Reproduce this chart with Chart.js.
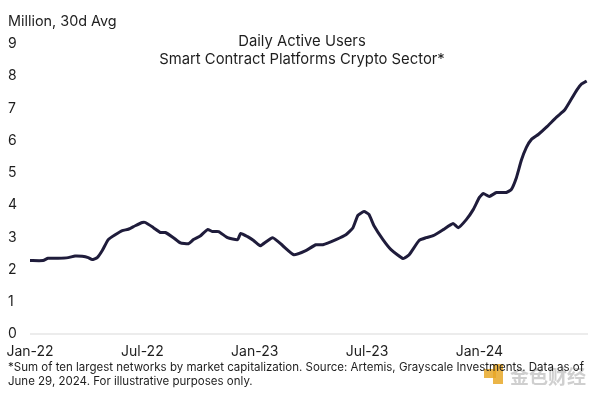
<!DOCTYPE html>
<html>
<head>
<meta charset="utf-8">
<script src="https://cdn.jsdelivr.net/npm/chart.js@4"></script>
<style>
  html, body { margin: 0; padding: 0; background: #fff; }
  #wrap { position: relative; width: 600px; height: 398px; }
</style>
</head>
<body>
<div id="wrap"><canvas id="mainChart" width="600" height="398"></canvas></div>
<script>
// months since Jan-22 (x) and daily active users, million, 30d avg (y)
var months = [0, 0.70, 0.96, 1.50, 2.04, 2.41, 2.79, 3.11, 3.32, 3.59, 3.86, 4.18, 4.55, 4.93, 5.25, 5.62,
  6.0, 6.16, 6.59, 6.96, 7.23, 7.66, 8.03, 8.46, 8.73, 9.11, 9.48, 9.75, 10.07, 10.55, 11.09, 11.25, 11.62, 11.94,
  12.21, 12.32, 12.96, 13.50, 14.09, 14.73, 15.27, 15.64, 16.34, 16.87, 17.25, 17.51, 17.84,
  18.10, 18.37, 18.85, 19.28, 19.93, 20.25, 20.78, 21.16, 21.53, 22.07, 22.60, 22.87, 23.30, 23.67,
  24.0, 24.21, 24.53, 24.91, 25.44, 25.71, 25.98, 26.24, 26.51, 26.78, 27.16, 27.58, 28.12, 28.55, 28.82, 29.20, 29.46, 29.73]
var dau = [2.28, 2.28, 2.35, 2.35, 2.37, 2.42, 2.41, 2.37, 2.31, 2.37, 2.59, 2.93, 3.08, 3.21, 3.25, 3.36,
  3.46, 3.46, 3.30, 3.15, 3.15, 2.99, 2.83, 2.80, 2.93, 3.05, 3.24, 3.18, 3.18, 2.99, 2.93, 3.12, 3.02, 2.90,
  2.77, 2.74, 2.99, 2.74, 2.46, 2.59, 2.77, 2.77, 2.93, 3.08, 3.30, 3.68, 3.80,
  3.71, 3.36, 2.93, 2.62, 2.34, 2.46, 2.90, 2.99, 3.05, 3.24, 3.43, 3.30, 3.55, 3.86,
  4.24, 4.36, 4.27, 4.39, 4.39, 4.49, 4.86, 5.39, 5.79, 6.04, 6.20, 6.42, 6.73, 6.95, 7.20, 7.57, 7.76, 7.85]

var tickMonths = [0, 6, 12, 18, 24]
var tickLabels = ["Jan-22", "Jul-22", "Jan-23", "Jul-23", "Jan-24"]

var titleLines = ["Daily Active Users", "Smart Contract Platforms Crypto Sector*"]
var unitLabel = "Million, 30d Avg"
var footLines = ["*Sum of ten largest networks by market capitalization. Source: Artemis, Grayscale Investments. Data as of",
  "June 29, 2024. For illustrative purposes only."]

var fontFam = "Inter, 'Noto Sans', sans-serif"
var textColor = "#1e1e1e"

var points = []
for (var i = 0; i < months.length; i++) {
  points.push({x: months[i], y: dau[i]})
}

// draws the title, unit label, footnote and watermark
var textPlugin = {
  id: 'texts',
  afterDraw: function (chart) {
    var c = chart.ctx
    c.save()
    c.fillStyle = textColor
    c.textBaseline = 'middle'
    c.font = "14.8px " + fontFam
    c.textAlign = 'center'
    c.fillText(titleLines[0], 302, 42)
    c.fillText(titleLines[1], 302, 60)
    c.textAlign = 'left'
    c.font = "14.4px " + fontFam
    c.fillText(unitLabel, 8, 22)
    // watermark
    c.fillStyle = "rgba(232,168,40,0.85)"
    c.fillRect(484, 369, 12, 9)
    c.fillRect(493, 364, 10, 20)
    c.fillStyle = "rgba(195,195,195,0.8)"
    c.font = "bold 19px 'Noto Sans CJK SC', sans-serif"
    c.fillText("金色财经", 510, 377)
    c.fillStyle = textColor
    c.font = "11.5px " + fontFam
    c.fillText(footLines[0], 8, 368)
    c.fillText(footLines[1], 8, 382)
    c.restore()
  }
}

var ctx = document.getElementById('mainChart').getContext('2d')
var mainChart = new Chart(ctx, {
  type: 'line',
  data: {
    datasets: [{
      label: "Daily Active Users",
      data: points,
      borderColor: '#1f1c3b',
      borderWidth: 3,
      pointRadius: 0,
      tension: 0.15,
      fill: false
    }]
  },
  options: {
    responsive: false,
    animation: false,
    layout: {padding: {left: 8, right: 12, top: 44, bottom: 37}},
    plugins: {
      legend: {display: false},
      title: {display: false},
      tooltip: {enabled: false}
    },
    scales: {
      x: {
        type: 'linear',
        min: 0,
        max: 29.8,
        border: {display: false},
        grid: {display: false, drawTicks: false},
        afterBuildTicks: function (scale) {
          scale.ticks = tickMonths.map(function (m) { return {value: m} })
        },
        afterFit: function (scale) {
          scale.height = 27
          scale.paddingLeft = 0
          scale.paddingRight = 0
        },
        ticks: {
          autoSkip: false,
          maxRotation: 0,
          padding: 9,
          color: textColor,
          font: {family: fontFam, size: 14},
          callback: function (v) {
            var k = tickMonths.indexOf(v)
            return k >= 0 ? tickLabels[k] : ''
          }
        }
      },
      y: {
        min: 0,
        max: 9,
        border: {display: false},
        afterFit: function (scale) {
          scale.width = 22
          scale.paddingTop = 0
          scale.paddingBottom = 0
        },
        grid: {
          drawTicks: false,
          lineWidth: 2,
          color: function (c) { return c.tick && c.tick.value === 0 ? '#ececec' : 'rgba(0,0,0,0)' }
        },
        ticks: {
          stepSize: 1,
          crossAlign: 'far',
          padding: 8,
          color: textColor,
          font: {family: fontFam, size: 14}
        }
      }
    }
  },
  plugins: [textPlugin]
})
</script>
</body>
</html>
